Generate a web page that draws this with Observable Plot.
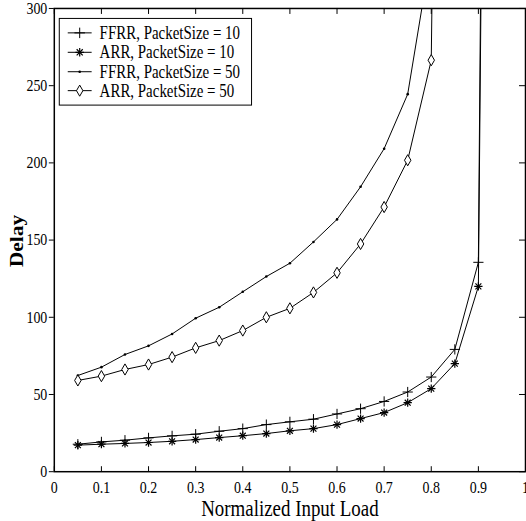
<!DOCTYPE html>
<html>
<head>
<meta charset="utf-8">
<script src="https://cdn.jsdelivr.net/npm/d3@7"></script>
<script src="https://cdn.jsdelivr.net/npm/@observablehq/plot@0.6"></script>
<style>
  html, body { margin: 0; padding: 0; background: #fff; overflow: hidden; }
  #chart { width: 526px; height: 521px; overflow: hidden; }
  svg { display: block; }
</style>
</head>
<body>
<div id="chart"></div>
<script>
// ---- data ----
const xTicks = [0, 0.1, 0.2, 0.3, 0.4, 0.5, 0.6, 0.7, 0.8, 0.9, 1];
const xTickLabels = ["0", "0.1", "0.2", "0.3", "0.4", "0.5", "0.6", "0.7", "0.8", "0.9", "1"];
const yTicks = [0, 50, 100, 150, 200, 250, 300];
const yTickLabels = ["0", "50", "100", "150", "200", "250", "300"];

const loads10 = [0.05, 0.1, 0.15, 0.2, 0.25, 0.3, 0.35, 0.4, 0.45, 0.5, 0.55, 0.6, 0.65, 0.7, 0.75, 0.8, 0.85, 0.9, 0.95];
const ffrr10 = [17.8, 19.3, 20.4, 21.9, 23.2, 24.3, 26.2, 27.9, 30.5, 32.3, 34.0, 37.4, 40.8, 45.5, 51.6, 61.3, 79.2, 135.6, 2000];
const arr10  = [17.2, 17.8, 18.3, 18.9, 19.7, 20.8, 22.1, 23.3, 24.7, 26.5, 27.9, 30.5, 34.4, 38.3, 44.7, 53.8, 70.0, 120.0, 1800];

const loadsF50 = [0.05, 0.1, 0.15, 0.2, 0.25, 0.3, 0.35, 0.4, 0.45, 0.5, 0.55, 0.6, 0.65, 0.7, 0.75, 0.8];
const ffrr50 = [62.3, 67.7, 75.9, 81.5, 89.2, 99.4, 106.5, 116.5, 126.4, 135.0, 148.8, 163.4, 184.5, 209.2, 244.5, 337];

const loadsA50 = [0.05, 0.1, 0.15, 0.2, 0.25, 0.3, 0.35, 0.4, 0.45, 0.5, 0.55, 0.6, 0.65, 0.7, 0.75, 0.8, 0.85];
const arr50 = [59.1, 61.9, 66.2, 69.4, 74.2, 80.2, 84.9, 91.4, 100.0, 105.8, 116.1, 128.8, 147.5, 171.4, 201.7, 266.5, 1500];

const seriesNames = ["FFRR, PacketSize = 10", "ARR, PacketSize = 10", "FFRR, PacketSize = 50", "ARR, PacketSize = 50"];
const xLabel = "Normalized Input Load";
const yLabel = "Delay";

// ---- tables ----
const toRows = (xs, ys) => xs.map((x, i) => ({x, y: ys[i]}));
const tF10 = toRows(loads10, ffrr10);
const tA10 = toRows(loads10, arr10);
const tF50 = toRows(loadsF50, ffrr50);
const tA50 = toRows(loadsA50, arr50);

const W = 528, H = 521, mL = 54, mR = 1, mT = 8, mB = 48;
const innerW = W - mL - mR, innerH = H - mT - mB;
const font = "'Liberation Serif', 'Times New Roman', serif";

const plot = Plot.plot({
  width: W, height: H,
  marginLeft: mL, marginRight: mR, marginTop: mT, marginBottom: mB,
  style: {fontFamily: font, background: "#fff", color: "#000", overflow: "visible"},
  x: {domain: [0, 1]},
  y: {domain: [0, 300]},
  marks: [
    // inward ticks: bottom, top, right
    Plot.tickX(xTicks, {x: d => d, insetTop: innerH - 5, stroke: "#000", strokeWidth: 1}),
    Plot.tickX(xTicks, {x: d => d, insetBottom: innerH - 6, stroke: "#000", strokeWidth: 1}),
    Plot.tickY(yTicks, {y: d => d, insetLeft: innerW - 6, stroke: "#000", strokeWidth: 1}),
    Plot.axisX({ticks: xTicks, tickSize: 0, tickPadding: 9, fontSize: 14,
      tickFormat: d => xTickLabels[xTicks.indexOf(d)], label: null}),
    Plot.axisY({ticks: yTicks, tickSize: 5, tickPadding: 2, fontSize: 14,
      tickFormat: d => yTickLabels[yTicks.indexOf(d)], label: null}),
    // series lines
    Plot.line(tF10, {x: "x", y: "y", stroke: "#000", strokeWidth: 1, clip: true}),
    Plot.line(tA10, {x: "x", y: "y", stroke: "#000", strokeWidth: 1, clip: true}),
    Plot.line(tF50, {x: "x", y: "y", stroke: "#000", strokeWidth: 1, clip: true}),
    Plot.line(tA50, {x: "x", y: "y", stroke: "#000", strokeWidth: 1, clip: true}),
    // markers
    Plot.dot(tF10, {x: "x", y: "y", symbol: "plus", r: 3.4, stroke: "#000", strokeWidth: 1, clip: true}),
    Plot.dot(tA10, {x: "x", y: "y", symbol: "plus", r: 2.8, stroke: "#000", strokeWidth: 1.2, clip: true}),
    Plot.dot(tA10, {x: "x", y: "y", symbol: "times", r: 2.8, stroke: "#000", strokeWidth: 1.2, clip: true}),
    Plot.dot(tF50, {x: "x", y: "y", r: 1.3, fill: "#000", stroke: "none", clip: true}),
    Plot.dot(tA50, {x: "x", y: "y", symbol: "diamond", r: 3.4, fill: "#fff", stroke: "#000", strokeWidth: 1, clip: true}),
    Plot.frame({stroke: "#000", strokeWidth: 1.5}),
    // axis titles
    Plot.text([xLabel], {frameAnchor: "bottom", dy: 37, lineAnchor: "middle", textAnchor: "middle", fontSize: 19, fill: "#000"}),
    Plot.text([yLabel], {frameAnchor: "left", dx: -37, dy: 1, rotate: -90, lineAnchor: "middle", textAnchor: "middle", fontSize: 18, fontWeight: "bold", fill: "#000"})
  ]
});

// stretch text vertically (reference glyphs are taller than wide)
d3.select(plot).selectAll("text").each(function() {
  const t = this.getAttribute("transform") || "";
  const rotated = /rotate/.test(t);
  this.setAttribute("transform", t + (rotated ? " scale(1.2,1)" : " scale(1,1.2)"));
});

// ---- legend (drawn into the svg) ----
const svg = d3.select(plot);
const lg = svg.append("g").attr("font-family", font).attr("font-size", 15).attr("text-anchor", "start");
lg.append("rect").attr("x", 59.5).attr("y", 18.5).attr("width", 193).attr("height", 87)
  .attr("fill", "#fff").attr("stroke", "#000").attr("stroke-width", 1);
const rowY = [33, 52.5, 72, 91];
const mk = (g, type) => {
  if (type === 0) {
    g.append("path").attr("d", d3.symbol(d3.symbolPlus, 38)()).attr("stroke", "#000").attr("fill", "none");
  } else if (type === 1) {
    g.append("path").attr("d", d3.symbol(d3.symbolPlus, 26)()).attr("stroke", "#000").attr("stroke-width", 1.2).attr("fill", "none");
    g.append("path").attr("d", d3.symbol(d3.symbolTimes, 26)()).attr("stroke", "#000").attr("stroke-width", 1.2).attr("fill", "none");
  } else if (type === 2) {
    g.append("circle").attr("r", 1.3).attr("fill", "#000");
  } else {
    g.append("path").attr("d", d3.symbol(d3.symbolDiamond, 36)()).attr("stroke", "#000").attr("fill", "#fff");
  }
};
seriesNames.forEach((name, i) => {
  const row = lg.append("g").attr("transform", `translate(0,${rowY[i]})`);
  row.append("line").attr("x1", 68).attr("x2", 92).attr("stroke", "#000").attr("stroke-width", 1);
  mk(row.append("g").attr("transform", "translate(80,0)"), i);
  row.append("text").attr("transform", "translate(100,0) scale(1,1.2)").attr("dy", "0.33em").attr("fill", "#000").text(name);
});

document.getElementById("chart").appendChild(plot);
</script>
</body>
</html>
